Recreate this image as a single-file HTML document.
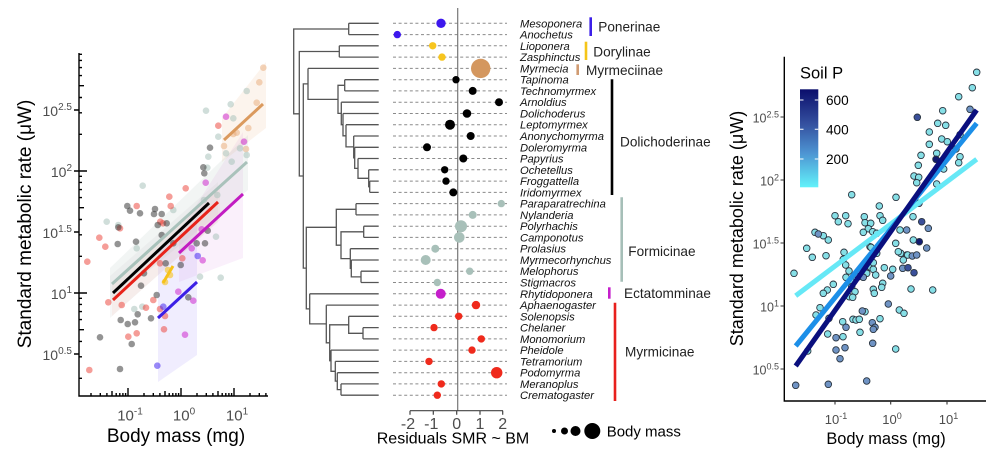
<!DOCTYPE html>
<html><head><meta charset="utf-8"><style>
html,body{margin:0;padding:0;background:#fff;}
svg{display:block;font-family:"Liberation Sans",Arial,sans-serif;}
</style></head><body>
<svg width="1000" height="471" viewBox="0 0 1000 471" xmlns="http://www.w3.org/2000/svg">
<defs>
<linearGradient id="cb" x1="0" y1="0" x2="0" y2="1">
<stop offset="0" stop-color="#0b0e6c"/>
<stop offset="0.35" stop-color="#34509f"/>
<stop offset="0.65" stop-color="#4d94d2"/>
<stop offset="1" stop-color="#62f2fa"/>
</linearGradient>
</defs>

<!-- ================= LEFT PANEL ================= -->
<g>
<!-- bands -->
<polygon points="158,250 197,222 197,355 158,382" fill="rgba(150,130,245,0.14)"/>
<polygon points="179,232 243,132 243,258 179,282" fill="rgba(205,120,215,0.11)"/>
<polygon points="222,118 266,62 266,128 222,162" fill="rgba(235,175,125,0.14)"/>
<polygon points="110,268 248,135 248,190 110,302" fill="rgba(175,195,188,0.17)"/>
<polygon points="110,276 218,182 218,222 110,318" fill="rgba(200,200,200,0.17)"/>
<polygon points="112,285 220,185 220,220 112,316" fill="rgba(245,160,150,0.11)"/>

<!-- points -->
<g fill="rgba(232,170,120,0.5)">
<circle cx="263.3" cy="67.7" r="3.3"/><circle cx="259.3" cy="82.3" r="3.3"/><circle cx="256.7" cy="102.7" r="3.3"/><circle cx="248.3" cy="128" r="3.3"/><circle cx="224" cy="146" r="3.3"/><circle cx="233.3" cy="134" r="3.3"/><circle cx="236.7" cy="132.7" r="3.3"/><circle cx="246" cy="149" r="3.3"/>
</g>
<g fill="rgba(170,195,188,0.55)">
<circle cx="246.7" cy="91" r="3.3"/><circle cx="230.7" cy="104.3" r="3.3"/><circle cx="233.3" cy="118.3" r="3.3"/><circle cx="206" cy="110.7" r="3.3"/><circle cx="218.3" cy="136.7" r="3.3"/><circle cx="208.3" cy="156.7" r="3.3"/><circle cx="231.7" cy="161.7" r="3.3"/><circle cx="240" cy="148.3" r="3.3"/><circle cx="226" cy="153.3" r="3.3"/><circle cx="246.7" cy="155" r="3.3"/><circle cx="207.3" cy="167.7" r="3.3"/><circle cx="217.3" cy="195" r="3.3"/><circle cx="142.7" cy="185.7" r="3.3"/><circle cx="173.3" cy="210" r="3.3"/><circle cx="204" cy="200" r="3.3"/><circle cx="106.7" cy="221.7" r="3.3"/><circle cx="118.3" cy="225" r="3.3"/><circle cx="136.7" cy="248.3" r="3.3"/><circle cx="216" cy="236.7" r="3.3"/><circle cx="200" cy="276.7" r="3.3"/><circle cx="220.7" cy="277.7" r="3.3"/><circle cx="134.3" cy="309" r="3.3"/><circle cx="142.3" cy="306.7" r="3.3"/>
</g>
<g fill="rgba(205,40,205,0.55)">
<circle cx="226" cy="116.7" r="3.3"/><circle cx="244" cy="141.7" r="3.3"/><circle cx="205.7" cy="182.7" r="3.3"/><circle cx="201.7" cy="229.3" r="3.3"/><circle cx="191.7" cy="248.3" r="3.3"/><circle cx="202.7" cy="260.3" r="3.3"/><circle cx="178.3" cy="291.7" r="3.3"/><circle cx="193.3" cy="300.7" r="3.3"/><circle cx="185" cy="334.7" r="3.3"/>
</g>
<g fill="rgba(235,60,50,0.5)">
<circle cx="218.3" cy="125.7" r="3.3"/><circle cx="185.7" cy="188.3" r="3.3"/><circle cx="169.3" cy="196.7" r="3.3"/><circle cx="170.7" cy="206" r="3.3"/><circle cx="136.7" cy="206" r="3.3"/><circle cx="160.3" cy="221.7" r="3.3"/><circle cx="163" cy="223.3" r="3.3"/><circle cx="120" cy="228.3" r="3.3"/><circle cx="99.3" cy="237.7" r="3.3"/><circle cx="105.3" cy="246.7" r="3.3"/><circle cx="87.3" cy="261.7" r="3.3"/><circle cx="182.3" cy="258.3" r="3.3"/><circle cx="108.3" cy="302.3" r="3.3"/><circle cx="121.7" cy="305" r="3.3"/><circle cx="128.3" cy="336.7" r="3.3"/><circle cx="136.7" cy="333.3" r="3.3"/><circle cx="146" cy="307.7" r="3.3"/><circle cx="153.3" cy="300" r="3.3"/><circle cx="164" cy="329.3" r="3.3"/><circle cx="165" cy="316" r="3.3"/><circle cx="160" cy="309" r="3.3"/><circle cx="89.3" cy="370" r="3.3"/><circle cx="160" cy="263.3" r="3.3"/>
</g>
<g fill="rgba(60,60,60,0.55)">
<circle cx="210" cy="147.7" r="3.3"/><circle cx="203.3" cy="167.3" r="3.3"/><circle cx="204.3" cy="173.3" r="3.3"/><circle cx="127.3" cy="206" r="3.3"/><circle cx="130" cy="210.7" r="3.3"/><circle cx="140" cy="213.3" r="3.3"/><circle cx="155" cy="209" r="3.3"/><circle cx="154" cy="214" r="3.3"/><circle cx="161.7" cy="214" r="3.3"/><circle cx="157.7" cy="225" r="3.3"/><circle cx="166.7" cy="223.3" r="3.3"/><circle cx="118.3" cy="227.3" r="3.3"/><circle cx="117.7" cy="244" r="3.3"/><circle cx="136" cy="241.7" r="3.3"/><circle cx="161.7" cy="235" r="3.3"/><circle cx="173.3" cy="243.3" r="3.3"/><circle cx="196.7" cy="243.3" r="3.3"/><circle cx="205" cy="243.3" r="3.3"/><circle cx="207.7" cy="230.7" r="3.3"/><circle cx="180.7" cy="265" r="3.3"/><circle cx="165.7" cy="263.3" r="3.3"/><circle cx="100" cy="337.3" r="3.3"/><circle cx="120.7" cy="320" r="3.3"/><circle cx="127.7" cy="324" r="3.3"/><circle cx="135" cy="322.3" r="3.3"/><circle cx="137.7" cy="314.3" r="3.3"/><circle cx="131.7" cy="344" r="3.3"/><circle cx="120" cy="369" r="3.3"/><circle cx="141" cy="285.7" r="3.3"/><circle cx="151" cy="318.3" r="3.3"/><circle cx="156.7" cy="295" r="3.3"/><circle cx="188.3" cy="297.3" r="3.3"/><circle cx="144" cy="273.3" r="3.3"/>
</g>
<g fill="rgba(70,40,240,0.55)">
<circle cx="197.7" cy="256" r="3.3"/><circle cx="157.3" cy="365.7" r="3.3"/><circle cx="163.3" cy="306.7" r="3.3"/>
</g>
<g fill="rgba(246,194,26,0.6)">
<circle cx="168" cy="270" r="3.3"/><circle cx="170" cy="275" r="3.3"/><circle cx="165" cy="282" r="3.3"/>
</g>

<!-- fit lines -->
<g stroke-width="3" stroke-linecap="butt">
<line x1="112" y1="284" x2="247" y2="162" stroke="#a9c2bb"/>
<line x1="113" y1="293" x2="209" y2="203" stroke="#000"/>
<line x1="113" y1="300" x2="218" y2="202" stroke="#e8231a"/>
<line x1="179" y1="253" x2="243" y2="194" stroke="#c21cc2"/>
<line x1="224" y1="140" x2="263" y2="104" stroke="#db9a5e"/>
<line x1="158" y1="318" x2="197" y2="282" stroke="#3c1fe6"/>
<line x1="163" y1="283" x2="173" y2="266" stroke="#f6c21a"/>
</g>

<!-- axes -->
<g stroke="#000" stroke-width="1.4" fill="none">
<path d="M79,53V396H268"/>
<path d="M74,110H79M74,171H79M74,232H79M74,293H79M74,354H79"/>
<path d="M79,378.3h3M79,356.8h3M79,341.4h3M79,329.7h5M79,319.6h3M79,311.6h3M79,304.4h3M79,298.3h3M79,293h8
M79,256.3h3M79,234.8h3M79,219.5h3M79,207.7h5M79,197.6h3M79,189.6h3M79,182.4h3M79,176.3h3M79,171h8
M79,134.3h3M79,112.8h3M79,97.5h3M79,85.7h5M79,75.6h3M79,67.6h3M79,60.4h3M79,54.3h3"/>
<path d="M91,396v-3M100.3,396v-3M106.9,396v-3M112,396v-5M116.2,396v-3M119.8,396v-3M122.9,396v-3M125.6,396v-3M128,396v-8
M144,396v-3M153.3,396v-3M159.9,396v-3M165,396v-5M169.2,396v-3M172.8,396v-3M175.9,396v-3M178.6,396v-3M181,396v-8
M197,396v-3M206.3,396v-3M212.9,396v-3M218,396v-5M222.2,396v-3M225.8,396v-3M228.9,396v-3M231.6,396v-3M234,396v-8
M250,396v-3M259.3,396v-3M265.9,396v-3"/>
</g>
<g fill="#4d4d4d" font-size="14" text-anchor="end">
<text x="72" y="116">10<tspan font-size="10" dy="-6">2.5</tspan></text>
<text x="72" y="177">10<tspan font-size="10" dy="-6">2</tspan></text>
<text x="72" y="238">10<tspan font-size="10" dy="-6">1.5</tspan></text>
<text x="72" y="299">10<tspan font-size="10" dy="-6">1</tspan></text>
<text x="72" y="360">10<tspan font-size="10" dy="-6">0.5</tspan></text>
</g>
<g fill="#4d4d4d" font-size="15" text-anchor="middle">
<text x="130" y="420.5">10<tspan font-size="10" dy="-6">-1</tspan></text>
<text x="184" y="420.5">10<tspan font-size="10" dy="-6">0</tspan></text>
<text x="237" y="420.5">10<tspan font-size="10" dy="-6">1</tspan></text>
</g>
<text x="176" y="442" font-size="19" text-anchor="middle" fill="#000">Body mass (mg)</text>
<text transform="translate(31,224) rotate(-90)" font-size="19" text-anchor="middle" fill="#000">Standard metabolic rate (μW)</text>
</g>

<!-- ================= MIDDLE PANEL ================= -->
<g>
<path fill="none" stroke="#555" stroke-width="1.3" d="
M348.7,23.3H378.7M348.7,34.6H378.7M339.3,45.8H378.7M339.3,57.1H378.7M308,68.4H378.7M344.7,79.7H378.7M344.7,90.9H378.7M341.3,102.2H378.7M343,113.5H378.7M346,124.7H378.7M353.7,136H378.7M354.7,147.3H378.7M358,158.5H378.7M368.7,169.8H378.7M369.7,181.1H378.7M369.7,192.4H378.7
M356,203.6H378.7M356,214.9H378.7M363.7,226.2H378.7M363.7,237.4H378.7M350.3,248.7H378.7M351.3,260H378.7M361,271.2H378.7M361,282.5H378.7M309.7,293.8H378.7M326.3,305.1H378.7M348.7,316.3H378.7M363,327.6H378.7M363,338.9H378.7M331,350.1H378.7M335.3,361.4H378.7M337.3,372.7H378.7M341,383.9H378.7M341,395.2H378.7
M348.7,23.3V34.6M339.3,45.8V57.1M344.7,79.7V90.9M369.7,181.1V192.4
M368.7,169.8V186.7H369.7M358,158.5V178.3H368.7M354.7,147.3V168.4H358M353.7,136V157.8H354.7M346,124.7V146.9H353.7M343,113.5V135.8H346M341.3,102.2V124.7H343
M344.7,85.3H338V113.4H341.3M308,68.4V99.4H338
M356,203.6V214.9M363.7,226.2V237.4M361,271.2V282.5M351.3,260V276.9H361M350.3,248.7V268.4H351.3
M363.7,231.8H341V258.6H350.3M356,209.3H336.3V245.2H341
M341,383.9V395.2M337.3,372.7V389.6H341M335.3,361.4V381.1H337.3M331,350.1V371.3H335.3M363,327.6V338.9M348.7,316.3V333.3H363
M348.7,324.8H329.7V360.7H331M326.3,305.1V342.8H329.7M309.7,293.8V323.9H326.3
M336.3,227.3H306.3V308.9H309.7M308,83.9H303.3V268.1H306.3
M339.3,51.5H299.3V176H303.3M348.7,29H293.7V113.8H299.3"/>

<g stroke="#8a8a8a" stroke-width="1" stroke-dasharray="3,2.6">
<path d="M393,23.3H507M393,34.6H507M393,45.8H507M393,57.1H507M393,68.4H507M393,79.7H507M393,90.9H507M393,102.2H507M393,113.5H507M393,124.7H507M393,136H507M393,147.3H507M393,158.5H507M393,169.8H507M393,181.1H507M393,192.4H507M393,203.6H507M393,214.9H507M393,226.2H507M393,237.4H507M393,248.7H507M393,260H507M393,271.2H507M393,282.5H507M393,293.8H507M393,305.1H507M393,316.3H507M393,327.6H507M393,338.9H507M393,350.1H507M393,361.4H507M393,372.7H507M393,383.9H507M393,395.2H507"/>
</g>
<line x1="457.7" y1="8" x2="457.7" y2="410.7" stroke="#777" stroke-width="1.2"/>

<circle cx="441" cy="23.3" r="4.7" fill="#3d17ee"/>
<circle cx="397.3" cy="34.6" r="3.7" fill="#3d17ee"/>
<circle cx="432.7" cy="45.8" r="3.7" fill="#f7c51e"/>
<circle cx="442" cy="57.1" r="3.7" fill="#f7c51e"/>
<circle cx="480.7" cy="68.4" r="9.7" fill="#d4975f"/>
<g fill="#000">
<circle cx="456" cy="79.7" r="3.7"/><circle cx="472.7" cy="90.9" r="4"/><circle cx="499" cy="102.2" r="4"/><circle cx="467" cy="113.5" r="4.3"/><circle cx="450" cy="124.7" r="5"/><circle cx="470.7" cy="136" r="4"/><circle cx="427" cy="147.3" r="4"/><circle cx="463.3" cy="158.5" r="4"/><circle cx="444.7" cy="169.8" r="3.7"/><circle cx="446" cy="181.1" r="3.7"/><circle cx="453.3" cy="192.4" r="4"/>
</g>
<g fill="#a8c0b9">
<circle cx="501.3" cy="203.6" r="3.7"/><circle cx="472.7" cy="214.9" r="4"/><circle cx="461" cy="226.2" r="6"/><circle cx="459.3" cy="237.4" r="5.3"/><circle cx="435.3" cy="248.7" r="4"/><circle cx="425.7" cy="260" r="5"/><circle cx="469.7" cy="271.2" r="3.7"/><circle cx="437.3" cy="282.5" r="3.7"/>
</g>
<circle cx="440.7" cy="293.8" r="5" fill="#c51fcb"/>
<g fill="#ef2a1c">
<circle cx="476" cy="305.1" r="4.2"/><circle cx="458.7" cy="316.3" r="3.7"/><circle cx="434" cy="327.6" r="3.7"/><circle cx="481.3" cy="338.9" r="3.7"/><circle cx="472" cy="350.1" r="3.7"/><circle cx="429" cy="361.4" r="3.7"/><circle cx="496.7" cy="372.7" r="5.7"/><circle cx="441.3" cy="383.9" r="3.7"/><circle cx="437.3" cy="395.2" r="3.7"/>
</g>

<path d="M410,410.7H503M410,410.7v4M433.3,410.7v4M456.7,410.7v4M480,410.7v4M502.7,410.7v4" stroke="#444" stroke-width="1.2" fill="none"/>
<g fill="#4d4d4d" font-size="16" text-anchor="middle">
<text x="408" y="429">-2</text><text x="431.3" y="429">-1</text><text x="456.7" y="429">0</text><text x="480" y="429">1</text><text x="502.7" y="429">2</text>
</g>
<text x="453" y="443.5" font-size="16" text-anchor="middle" fill="#000">Residuals SMR ~ BM</text>

<g font-size="11.2" font-style="italic" fill="#111">
<text x="520" y="27.3">Mesoponera</text>
<text x="520" y="38.6">Anochetus</text>
<text x="520" y="49.8">Lioponera</text>
<text x="520" y="61.1">Zasphinctus</text>
<text x="520" y="72.4">Myrmecia</text>
<text x="520" y="83.7">Tapinoma</text>
<text x="520" y="94.9">Technomyrmex</text>
<text x="520" y="106.2">Arnoldius</text>
<text x="520" y="117.5">Dolichoderus</text>
<text x="520" y="128.7">Leptomyrmex</text>
<text x="520" y="140">Anonychomyrma</text>
<text x="520" y="151.3">Doleromyrma</text>
<text x="520" y="162.5">Papyrius</text>
<text x="520" y="173.8">Ochetellus</text>
<text x="520" y="185.1">Froggattella</text>
<text x="520" y="196.4">Iridomyrmex</text>
<text x="520" y="207.6">Paraparatrechina</text>
<text x="520" y="218.9">Nylanderia</text>
<text x="520" y="230.2">Polyrhachis</text>
<text x="520" y="241.4">Camponotus</text>
<text x="520" y="252.7">Prolasius</text>
<text x="520" y="264">Myrmecorhynchus</text>
<text x="520" y="275.2">Melophorus</text>
<text x="520" y="286.5">Stigmacros</text>
<text x="520" y="297.8">Rhytidoponera</text>
<text x="520" y="309.1">Aphaenogaster</text>
<text x="520" y="320.3">Solenopsis</text>
<text x="520" y="331.6">Chelaner</text>
<text x="520" y="342.9">Monomorium</text>
<text x="520" y="354.1">Pheidole</text>
<text x="520" y="365.4">Tetramorium</text>
<text x="520" y="376.7">Podomyrma</text>
<text x="520" y="387.9">Meranoplus</text>
<text x="520" y="399.2">Crematogaster</text>
</g>

<g stroke-width="2.6">
<line x1="590.7" y1="17.3" x2="590.7" y2="36" stroke="#3c1fe8"/>
<line x1="586" y1="41.7" x2="586" y2="60" stroke="#f5c518"/>
<line x1="577.7" y1="64.3" x2="577.7" y2="75" stroke="#d09b72"/>
<line x1="612" y1="79.3" x2="612" y2="195" stroke="#000"/>
<line x1="621.7" y1="197.3" x2="621.7" y2="281.7" stroke="#a6bfb8"/>
<line x1="609.3" y1="287.3" x2="609.3" y2="298.7" stroke="#c51fcb"/>
<line x1="615" y1="302.7" x2="615" y2="401" stroke="#e8201c"/>
</g>
<g font-size="13.6" fill="#222">
<text x="598.3" y="31.5">Ponerinae</text>
<text x="593.3" y="56.5">Dorylinae</text>
<text x="586" y="75">Myrmeciinae</text>
<text x="620" y="146.5">Dolichoderinae</text>
<text x="628.3" y="256">Formicinae</text>
<text x="624" y="298">Ectatomminae</text>
<text x="625" y="356.5">Myrmicinae</text>
</g>
<circle cx="554" cy="431" r="2" fill="#000"/>
<circle cx="564.5" cy="431" r="3.5" fill="#000"/>
<circle cx="575.5" cy="431" r="5" fill="#000"/>
<circle cx="592.3" cy="431" r="8" fill="#000"/>
<text x="606.7" y="436.5" font-size="15" fill="#000">Body mass</text>
</g>

<!-- ================= RIGHT PANEL ================= -->
<g>
<g stroke="#2a3540" stroke-width="0.9">
<g fill="#86dfe6">
<circle cx="976.7" cy="72.3" r="3.3"/><circle cx="972.3" cy="87.7" r="3.3"/><circle cx="958.7" cy="96.7" r="3.3"/><circle cx="942.7" cy="110.7" r="3.3"/><circle cx="929.3" cy="132" r="3.3"/><circle cx="937.7" cy="123.3" r="3.3"/><circle cx="945.7" cy="125.3" r="3.3"/><circle cx="960" cy="134.7" r="3.3"/><circle cx="929.3" cy="144.3" r="3.3"/><circle cx="936.7" cy="153.3" r="3.3"/><circle cx="941.7" cy="139" r="3.3"/><circle cx="947.3" cy="141.7" r="3.3"/><circle cx="921" cy="155.3" r="3.3"/><circle cx="956" cy="149" r="3.3"/><circle cx="960" cy="156.7" r="3.3"/><circle cx="958.7" cy="162.7" r="3.3"/><circle cx="943.7" cy="169" r="3.3"/><circle cx="936.7" cy="184" r="3.3"/><circle cx="918.3" cy="165.3" r="3.3"/><circle cx="914" cy="176" r="3.3"/><circle cx="918.7" cy="177.3" r="3.3"/><circle cx="916.7" cy="182.7" r="3.3"/><circle cx="896" cy="197.3" r="3.3"/><circle cx="879.3" cy="206" r="3.3"/><circle cx="880" cy="215.7" r="3.3"/><circle cx="882.7" cy="220.3" r="3.3"/><circle cx="851.7" cy="194.7" r="3.3"/><circle cx="835" cy="215.7" r="3.3"/><circle cx="838.3" cy="221.7" r="3.3"/><circle cx="845.7" cy="215.7" r="3.3"/><circle cx="848" cy="223.7" r="3.3"/><circle cx="864.3" cy="216.7" r="3.3"/><circle cx="865" cy="222.7" r="3.3"/><circle cx="870.7" cy="223.3" r="3.3"/><circle cx="868.3" cy="228.7" r="3.3"/><circle cx="872.7" cy="231.7" r="3.3"/><circle cx="876.7" cy="233.3" r="3.3"/><circle cx="863.3" cy="232.3" r="3.3"/><circle cx="815" cy="232.3" r="3.3"/><circle cx="823.3" cy="235.7" r="3.3"/><circle cx="828.3" cy="240" r="3.3"/><circle cx="806.7" cy="248.3" r="3.3"/><circle cx="844" cy="252.3" r="3.3"/><circle cx="870" cy="246.7" r="3.3"/><circle cx="900" cy="230" r="3.3"/><circle cx="913" cy="216.7" r="3.3"/><circle cx="913.3" cy="240" r="3.3"/><circle cx="900.7" cy="253.3" r="3.3"/><circle cx="906.7" cy="255" r="3.3"/>
<circle cx="812.3" cy="257.3" r="3.3"/><circle cx="826" cy="255.7" r="3.3"/><circle cx="843.3" cy="259.3" r="3.3"/><circle cx="845.7" cy="265" r="3.3"/><circle cx="849" cy="271" r="3.3"/><circle cx="846" cy="277.3" r="3.3"/><circle cx="854" cy="277.3" r="3.3"/><circle cx="851.7" cy="281.7" r="3.3"/><circle cx="851.7" cy="286.7" r="3.3"/><circle cx="855" cy="291.7" r="3.3"/><circle cx="849.3" cy="296.7" r="3.3"/><circle cx="852.7" cy="297.3" r="3.3"/><circle cx="866.7" cy="266" r="3.3"/><circle cx="870.7" cy="267.3" r="3.3"/><circle cx="873.3" cy="262.7" r="3.3"/><circle cx="873.3" cy="269.3" r="3.3"/><circle cx="875.7" cy="275" r="3.3"/><circle cx="871" cy="247.3" r="3.3"/><circle cx="876.7" cy="253.3" r="3.3"/><circle cx="884.3" cy="267.7" r="3.3"/><circle cx="892.7" cy="269.3" r="3.3"/><circle cx="882.7" cy="283.3" r="3.3"/><circle cx="881.7" cy="287.3" r="3.3"/><circle cx="873.3" cy="289.3" r="3.3"/><circle cx="874.3" cy="293.3" r="3.3"/><circle cx="866.7" cy="273.3" r="3.3"/><circle cx="903.3" cy="260" r="3.3"/><circle cx="907.7" cy="255" r="3.3"/><circle cx="895.7" cy="243.3" r="3.3"/><circle cx="898.3" cy="251.7" r="3.3"/><circle cx="911" cy="289" r="3.3"/><circle cx="932.7" cy="290" r="3.3"/><circle cx="794" cy="273.3" r="3.3"/><circle cx="827.3" cy="290" r="3.3"/><circle cx="823.3" cy="293.3" r="3.3"/><circle cx="833.3" cy="284.3" r="3.3"/><circle cx="820" cy="307.7" r="3.3"/><circle cx="816" cy="315" r="3.3"/><circle cx="827.7" cy="334" r="3.3"/><circle cx="842.7" cy="321.7" r="3.3"/><circle cx="843" cy="336.7" r="3.3"/><circle cx="853" cy="319.3" r="3.3"/><circle cx="856" cy="320" r="3.3"/><circle cx="860" cy="332.3" r="3.3"/><circle cx="859.3" cy="319.3" r="3.3"/><circle cx="865" cy="311.7" r="3.3"/><circle cx="880" cy="318.7" r="3.3"/><circle cx="899.3" cy="310" r="3.3"/><circle cx="904" cy="313.3" r="3.3"/><circle cx="895.7" cy="349" r="3.3"/><circle cx="807.7" cy="351" r="3.3"/>
</g>
<g fill="#6f93c4">
<circle cx="970" cy="109.3" r="3.3"/><circle cx="818.3" cy="234" r="3.3"/><circle cx="906.7" cy="230" r="3.3"/><circle cx="926.7" cy="248" r="3.3"/><circle cx="928.3" cy="228.3" r="3.3"/><circle cx="919" cy="203.3" r="3.3"/><circle cx="858.3" cy="276.7" r="3.3"/><circle cx="863.3" cy="277.3" r="3.3"/><circle cx="890.7" cy="276" r="3.3"/><circle cx="902.7" cy="268.3" r="3.3"/><circle cx="912.3" cy="256" r="3.3"/><circle cx="916.7" cy="255" r="3.3"/><circle cx="829" cy="318.3" r="3.3"/><circle cx="836" cy="337.7" r="3.3"/><circle cx="846" cy="327.3" r="3.3"/><circle cx="845" cy="347.7" r="3.3"/><circle cx="836" cy="350" r="3.3"/><circle cx="840" cy="358.7" r="3.3"/><circle cx="862.3" cy="311" r="3.3"/><circle cx="872.3" cy="322.7" r="3.3"/><circle cx="875" cy="327.3" r="3.3"/><circle cx="873.3" cy="329.3" r="3.3"/><circle cx="872.7" cy="343.3" r="3.3"/><circle cx="888.3" cy="304" r="3.3"/><circle cx="866.7" cy="381" r="3.3"/><circle cx="828.3" cy="384.3" r="3.3"/><circle cx="795.7" cy="385.3" r="3.3"/>
</g>
<g fill="#3a4f9a">
<circle cx="917.3" cy="117.3" r="3.3"/><circle cx="921.7" cy="221.7" r="3.3"/><circle cx="908" cy="267.7" r="3.3"/><circle cx="914" cy="272.7" r="3.3"/>
</g>
<g fill="#121a70">
<circle cx="936" cy="159.3" r="3.3"/><circle cx="919.3" cy="241.7" r="3.3"/>
</g>
</g>

<g stroke-width="5" stroke-linecap="butt">
<line x1="795.7" y1="295.7" x2="976.7" y2="159.3" stroke="#66e8f6"/>
<line x1="795.7" y1="346" x2="976.7" y2="123.3" stroke="#1c8fe8"/>
<line x1="795.7" y1="366" x2="976.7" y2="110" stroke="#0a0f7e"/>
</g>

<path d="M784.3,56.7V401H986" stroke="#000" stroke-width="1.4" fill="none"/>
<path d="M780.5,117H784.3M780.5,180H784.3M780.5,243H784.3M780.5,306H784.3M780.5,369H784.3M835,401v3.5M890.7,401v3.5M947,401v3.5" stroke="#333" stroke-width="1.1" fill="none"/>
<g fill="#4d4d4d" font-size="12.5" text-anchor="end">
<text x="779" y="122.5">10<tspan font-size="9" dy="-5">2.5</tspan></text>
<text x="779" y="185.5">10<tspan font-size="9" dy="-5">2</tspan></text>
<text x="779" y="248.5">10<tspan font-size="9" dy="-5">1.5</tspan></text>
<text x="779" y="311.5">10<tspan font-size="9" dy="-5">1</tspan></text>
<text x="779" y="374.5">10<tspan font-size="9" dy="-5">0.5</tspan></text>
</g>
<g fill="#4d4d4d" font-size="13" text-anchor="middle">
<text x="836" y="424">10<tspan font-size="9" dy="-5">-1</tspan></text>
<text x="892" y="424">10<tspan font-size="9" dy="-5">0</tspan></text>
<text x="948.5" y="424">10<tspan font-size="9" dy="-5">1</tspan></text>
</g>
<text x="886" y="444" font-size="16.4" text-anchor="middle" fill="#000">Body mass (mg)</text>
<text transform="translate(743,228.5) rotate(-90)" font-size="18" text-anchor="middle" fill="#000">Standard metabolic rate (μW)</text>

<text x="800" y="78.5" font-size="16.5" fill="#000">Soil P</text>
<rect x="800" y="89.3" width="18.3" height="98" fill="url(#cb)"/>
<path d="M800,100h3.5M814.8,100h3.5M800,129.3h3.5M814.8,129.3h3.5M800,159h3.5M814.8,159h3.5" stroke="#fff" stroke-width="1"/>
<g font-size="13.6" fill="#000">
<text x="826" y="105">600</text>
<text x="826" y="134.3">400</text>
<text x="826" y="164">200</text>
</g>
</g>
</svg>
</body></html>
